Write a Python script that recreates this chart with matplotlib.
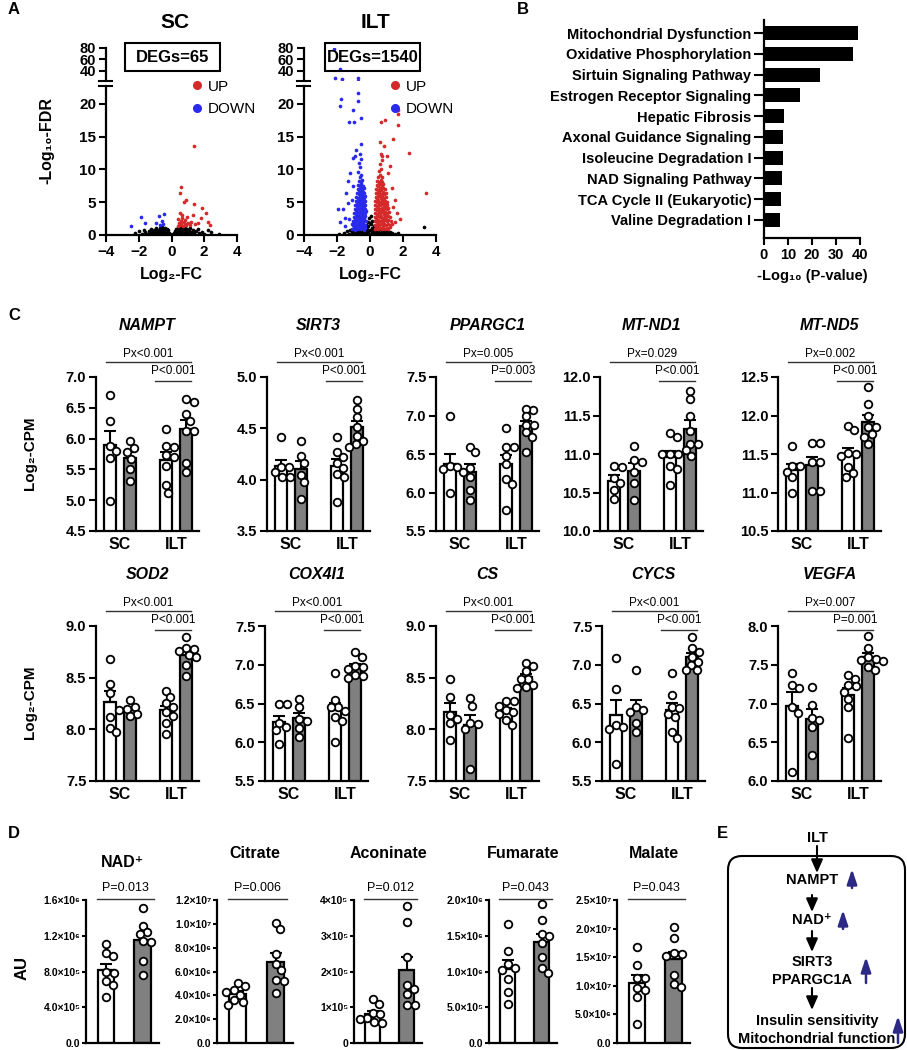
import matplotlib.pyplot as plt
import numpy as np
from matplotlib.lines import Line2D
from matplotlib.patches import Rectangle, FancyBboxPatch

plt.rcParams['font.family'] = ['Liberation Sans', 'DejaVu Sans']

# ---------------- data ----------------
# A: volcano plots (log2 FC, -log10 FDR)
sc_black = [(-2.2, 0.35), (-2.0, 0.6), (-1.8, 0.2), (-1.7, 0.8), (-1.6, 0.4), (-1.5, 0.15), (-1.4, 0.6),
            (-1.3, 0.3), (-1.25, 0.9), (-1.2, 0.5), (-1.1, 0.2), (-1.05, 0.7), (-1.0, 0.4), (-0.95, 1.0),
            (-0.9, 0.6), (-0.85, 0.25), (-0.8, 0.8), (-0.75, 0.45), (-0.7, 1.1), (-0.7, 0.15), (-0.65, 0.65),
            (-0.6, 0.9), (-0.6, 0.35), (-0.55, 1.2), (-0.5, 0.55), (-0.5, 0.1), (-0.45, 0.85), (-0.4, 1.05),
            (-0.4, 0.3), (-0.35, 0.6), (-0.3, 0.9), (-0.3, 0.2), (-0.25, 0.45), (-0.2, 0.7), (-0.15, 0.25),
            (-0.1, 0.1), (0.0, 0.05), (0.1, 0.1), (0.15, 0.3), (0.2, 0.6), (0.25, 0.15), (0.3, 0.85),
            (0.35, 0.4), (0.4, 1.1), (0.45, 0.65), (0.5, 0.2), (0.5, 0.95), (0.55, 1.25), (0.6, 0.5),
            (0.65, 0.8), (0.7, 1.15), (0.75, 0.3), (0.8, 0.7), (0.85, 1.0), (0.9, 0.45), (0.95, 0.85),
            (1.0, 0.2), (1.05, 0.6), (1.1, 1.0), (1.2, 0.4), (1.3, 0.8), (1.4, 0.25), (1.5, 0.6),
            (1.6, 0.9), (1.7, 0.3), (1.85, 0.5), (2.0, 0.2), (2.2, 0.7), (2.4, 0.4), (2.9, 0.1)]
sc_down = [(-2.5, 1.4), (-1.85, 2.8), (-1.6, 1.9), (-0.95, 1.9), (-0.75, 2.9), (-0.6, 2.2),
           (-0.45, 3.2), (-0.5, 1.6), (-0.7, 1.5)]
sc_up = [(1.38, 13.6), (0.6, 7.3), (0.5, 6.4), (0.9, 5.4), (0.77, 5.1), (1.36, 4.7), (1.89, 4.1),
         (0.5, 3.3), (0.65, 3.1), (1.3, 3.1), (2.1, 3.3), (1.8, 2.6), (2.2, 2.0), (2.33, 1.5), (0.4, 2.4),
         (0.45, 1.9), (0.5, 1.5), (0.55, 2.2), (0.6, 1.7), (0.65, 2.6), (0.7, 1.4), (0.75, 2.0),
         (0.8, 1.6), (0.85, 2.3), (0.9, 1.5), (1.0, 1.9), (1.1, 1.5), (1.2, 2.0), (1.45, 1.6),
         (1.6, 1.9), (0.95, 2.8), (0.42, 1.4)]

ilt_black = [(-1.9, 0.15), (-1.6, 0.3), (-1.4, 0.6), (-1.3, 0.2), (-1.2, 0.8), (-1.1, 0.4), (-1.0, 0.1),
             (-0.95, 0.7), (-0.9, 0.3), (-0.85, 1.0), (-0.8, 0.5), (-0.75, 0.15), (-0.7, 0.8), (-0.65, 0.4),
             (-0.6, 1.1), (-0.55, 0.6), (-0.5, 0.2), (-0.45, 0.9), (-0.4, 0.45), (-0.35, 1.2), (-0.3, 0.7),
             (-0.25, 0.3), (-0.22, 1.5), (-0.2, 0.9), (-0.15, 0.5), (-0.1, 1.3), (-0.05, 0.2), (0.0, 0.8),
             (0.05, 1.6), (0.1, 0.4), (0.15, 1.1), (0.2, 0.6), (0.22, 1.4), (0.25, 0.2), (0.3, 0.9),
             (0.35, 0.4), (0.4, 0.7), (0.45, 0.15), (0.5, 0.55), (0.55, 0.85), (0.6, 0.3), (0.7, 0.6),
             (0.8, 0.2), (0.85, 0.75), (0.9, 0.4), (1.0, 0.6), (1.1, 0.2), (1.2, 0.5), (1.35, 0.3),
             (1.5, 0.1), (1.7, 0.25), (-0.12, 2.0), (0.1, 2.2), (0.0, 1.9), (-0.05, 2.6), (0.08, 2.9),
             (3.3, 1.2)]
ilt_down = [(-1.08, 0.9), (-0.97, 1.2), (-0.88, 0.8), (-0.79, 1.1), (-0.71, 0.85), (-0.62, 1.25),
            (-0.53, 0.95), (-0.44, 1.15), (-0.36, 0.8), (-0.29, 1.05), (-1.12, 1.6), (-1.01, 1.45),
            (-0.92, 1.75), (-0.83, 1.5), (-0.74, 1.7), (-0.66, 1.4), (-0.57, 1.65), (-0.48, 1.45),
            (-0.4, 1.75), (-0.31, 1.5), (-1.05, 2.2), (-0.96, 2.05), (-0.87, 2.35), (-0.78, 2.1),
            (-0.69, 2.3), (-0.6, 2.0), (-0.52, 2.25), (-0.43, 2.05), (-0.35, 2.3), (-0.27, 2.1),
            (-1.0, 2.8), (-0.9, 2.65), (-0.81, 2.9), (-0.72, 2.7), (-0.64, 2.95), (-0.55, 2.6),
            (-0.47, 2.85), (-0.38, 2.65), (-0.3, 2.9), (-0.97, 3.4), (-0.86, 3.25), (-0.77, 3.5),
            (-0.68, 3.3), (-0.59, 3.55), (-0.5, 3.2), (-0.42, 3.45), (-0.33, 3.3), (-0.27, 3.6),
            (-0.92, 4.0), (-0.83, 3.85), (-0.74, 4.1), (-0.65, 3.9), (-0.56, 4.15), (-0.47, 3.85),
            (-0.39, 4.1), (-0.31, 3.9), (-0.88, 4.6), (-0.79, 4.45), (-0.7, 4.7), (-0.61, 4.5),
            (-0.52, 4.75), (-0.44, 4.45), (-0.36, 4.65), (-0.29, 4.5), (-0.85, 5.2), (-0.76, 5.05),
            (-0.67, 5.3), (-0.58, 5.1), (-0.49, 5.35), (-0.41, 5.05), (-0.33, 5.25), (-0.82, 5.8),
            (-0.72, 5.65), (-0.63, 5.9), (-0.54, 5.7), (-0.46, 5.95), (-0.38, 5.7), (-0.31, 5.9),
            (-0.78, 6.4), (-0.69, 6.25), (-0.6, 6.5), (-0.51, 6.3), (-0.43, 6.55), (-0.35, 6.35),
            (-0.74, 7.0), (-0.65, 6.85), (-0.56, 7.1), (-0.47, 6.9), (-0.39, 7.15), (-0.71, 7.6),
            (-0.61, 7.45), (-0.52, 7.7), (-0.44, 7.5), (-0.66, 8.2), (-0.57, 8.05), (-0.49, 8.35),
            (-0.62, 8.9), (-0.53, 9.2), (-0.7, 9.6), (-0.58, 10.3), (-0.66, 11.0), (-0.55, 11.6),
            (-0.63, 12.4),
            (-1.94, 3.9), (-1.63, 3.9), (-1.43, 6.4), (-1.23, 9.4), (-1.33, 8.2), (-1.02, 11.7),
            (-0.92, 12.0), (-0.82, 13.0), (-0.52, 13.9), (-1.53, 2.6), (-1.83, 2.0), (-1.33, 4.8),
            (-1.12, 5.4), (-1.02, 7.4), (-1.26, 17.2), (-0.98, 17.2), (-0.57, 17.9), (-1.02, 19.0),
            (-1.79, 19.6), (-1.73, 20.7), (-0.72, 20.4), (-0.72, 21.7), (-2.18, 78), (-1.79, 42.5),
            (-2.14, 28), (-1.69, 26), (-0.72, 27), (-1.5, 1.4), (-1.25, 2.4)]
ilt_up = [(0.3, 0.9), (0.4, 1.15), (0.5, 0.85), (0.6, 1.1), (0.7, 0.9), (0.8, 1.2), (0.9, 0.85),
          (1.0, 1.1), (1.1, 0.9), (1.22, 1.15), (0.28, 1.55), (0.37, 1.4), (0.47, 1.7), (0.57, 1.45),
          (0.67, 1.65), (0.77, 1.4), (0.87, 1.7), (0.97, 1.5), (1.08, 1.75), (1.2, 1.45), (1.32, 1.6),
          (0.31, 2.2), (0.41, 2.05), (0.51, 2.3), (0.61, 2.1), (0.71, 2.35), (0.81, 2.05), (0.91, 2.25),
          (1.01, 2.1), (1.12, 2.3), (1.25, 2.15), (0.29, 2.8), (0.39, 2.65), (0.49, 2.9), (0.59, 2.7),
          (0.69, 2.95), (0.79, 2.65), (0.89, 2.85), (0.99, 2.7), (1.1, 2.95), (1.22, 2.75), (0.32, 3.4),
          (0.42, 3.25), (0.52, 3.5), (0.62, 3.3), (0.72, 3.55), (0.82, 3.25), (0.92, 3.45), (1.03, 3.3),
          (1.15, 3.5), (0.3, 4.0), (0.4, 3.85), (0.5, 4.1), (0.6, 3.9), (0.7, 4.15), (0.8, 3.85),
          (0.9, 4.05), (1.0, 3.9), (1.1, 4.1), (0.33, 4.6), (0.43, 4.45), (0.53, 4.7), (0.63, 4.5),
          (0.73, 4.75), (0.83, 4.45), (0.93, 4.65), (1.04, 4.5), (0.31, 5.2), (0.41, 5.05), (0.51, 5.3),
          (0.61, 5.1), (0.71, 5.35), (0.81, 5.05), (0.91, 5.25), (1.02, 5.1), (0.34, 5.8), (0.44, 5.65),
          (0.54, 5.9), (0.64, 5.7), (0.74, 5.95), (0.84, 5.65), (0.95, 5.85), (0.36, 6.4), (0.46, 6.25),
          (0.56, 6.5), (0.66, 6.3), (0.76, 6.55), (0.86, 6.3), (0.97, 6.45), (0.38, 7.0), (0.48, 6.85),
          (0.58, 7.1), (0.68, 6.9), (0.78, 7.15), (0.9, 6.95), (0.4, 7.6), (0.5, 7.45), (0.6, 7.7),
          (0.7, 7.5), (0.8, 7.75), (0.45, 8.2), (0.55, 8.05), (0.65, 8.35), (0.75, 8.15), (0.5, 8.9),
          (0.6, 9.2), (0.7, 8.8), (0.55, 9.7), (0.68, 10.1), (0.6, 10.8), (0.72, 11.5), (0.65, 12.3),
          (0.9, 17.5), (0.64, 17.2), (1.71, 16.7), (1.71, 18.4), (1.67, 19.1), (2.38, 12.5), (1.41, 14.6),
          (0.6, 14.1), (0.74, 12.1), (3.39, 6.4), (1.51, 5.4), (1.61, 3.3), (1.41, 4.3), (1.31, 7.1),
          (1.1, 9.4), (1.21, 10.5), (1.0, 12.0), (0.85, 13.5), (1.8, 2.4), (1.5, 2.0)]
deg_counts = [65, 1540]

# B: top canonical pathways
pathways = ['Mitochondrial Dysfunction', 'Oxidative Phosphorylation', 'Sirtuin Signaling Pathway',
            'Estrogen Receptor Signaling', 'Hepatic Fibrosis', 'Axonal Guidance Signaling',
            'Isoleucine Degradation I', 'NAD Signaling Pathway', 'TCA Cycle II (Eukaryotic)',
            'Valine Degradation I']
neg_log_p = [39.0, 37.2, 23.5, 15.1, 8.4, 8.0, 7.8, 7.5, 6.9, 6.8]

# C: log2-CPM per gene: [SC white, SC grey, ILT white, ILT grey]
nampt = [[6.71, 6.29, 5.88, 5.80, 5.68, 4.98], [5.96, 5.85, 5.78, 5.67, 5.51, 5.31],
         [6.15, 5.88, 5.86, 5.74, 5.70, 5.55, 5.24, 5.12], [6.60, 6.64, 6.40, 6.29, 6.12, 6.12, 5.60, 5.46]]
sirt3 = [[4.42, 4.12, 4.12, 4.07, 4.03, 4.03], [4.38, 4.23, 4.16, 4.05, 3.98, 3.81],
         [4.42, 4.27, 4.22, 4.16, 4.11, 4.06, 4.03, 3.78], [4.78, 4.69, 4.61, 4.51, 4.43, 4.38, 4.35, 4.32]]
ppargc1 = [[6.99, 6.35, 6.33, 6.30, 6.26, 5.99], [6.59, 6.52, 6.32, 6.20, 6.03, 5.90],
           [6.84, 6.59, 6.59, 6.48, 6.37, 6.18, 6.11, 5.77], [7.07, 7.09, 6.99, 6.88, 6.88, 6.78, 6.72, 6.53]]
mt_nd1 = [[10.85, 10.83, 10.69, 10.62, 10.53, 10.41], [11.11, 10.92, 10.89, 10.77, 10.62, 10.40],
          [11.27, 11.22, 11.00, 11.00, 11.00, 10.85, 10.80, 10.60],
          [11.82, 11.71, 11.50, 11.30, 11.13, 11.13, 11.05, 10.98]]
mt_nd5 = [[11.60, 11.34, 11.34, 11.27, 11.20, 10.99], [11.64, 11.64, 11.40, 11.40, 11.02, 11.02],
          [11.87, 11.81, 11.51, 11.50, 11.48, 11.33, 11.25, 11.20],
          [12.37, 12.15, 12.00, 11.85, 11.85, 11.76, 11.72, 11.63]]
sod2 = [[8.68, 8.44, 8.35, 8.12, 8.01, 7.97], [8.28, 8.22, 8.20, 8.19, 8.15, 8.13],
        [8.37, 8.31, 8.25, 8.22, 8.17, 8.13, 8.06, 7.95], [8.89, 8.79, 8.78, 8.76, 8.72, 8.70, 8.62, 8.52]]
cox4i1 = [[6.49, 6.49, 6.25, 6.20, 6.16, 5.98], [6.56, 6.46, 6.30, 6.28, 6.19, 6.07],
          [6.89, 6.55, 6.46, 6.45, 6.40, 6.33, 6.28, 6.00], [7.16, 7.10, 6.98, 6.97, 6.94, 6.87, 6.85, 6.83]]
cs = [[8.49, 8.31, 8.14, 8.10, 8.06, 7.90], [8.30, 8.23, 8.06, 8.05, 8.00, 7.62],
      [8.27, 8.27, 8.23, 8.19, 8.17, 8.15, 8.09, 8.04], [8.64, 8.61, 8.56, 8.49, 8.49, 8.43, 8.41, 8.40]]
cycs = [[7.09, 6.69, 6.22, 6.20, 6.17, 5.72], [6.93, 6.46, 6.42, 6.39, 6.25, 6.13],
        [6.89, 6.61, 6.46, 6.44, 6.37, 6.33, 6.13, 6.06], [7.36, 7.22, 7.17, 7.10, 7.04, 7.00, 6.93, 6.93]]
vegfa = [[7.39, 7.24, 7.20, 6.95, 6.88, 6.12], [7.21, 6.98, 6.81, 6.79, 6.70, 6.34],
         [7.37, 7.32, 7.24, 7.22, 7.15, 7.06, 6.96, 6.56], [7.87, 7.72, 7.60, 7.58, 7.56, 7.55, 7.47, 7.43]]
gene_names = ['NAMPT', 'SIRT3', 'PPARGC1', 'MT-ND1', 'MT-ND5', 'SOD2', 'COX4I1', 'CS', 'CYCS', 'VEGFA']
gene_data = [nampt, sirt3, ppargc1, mt_nd1, mt_nd5, sod2, cox4i1, cs, cycs, vegfa]
gene_ylim = [(4.5, 7.0), (3.5, 5.0), (5.5, 7.5), (10.0, 12.0), (10.5, 12.5),
             (7.5, 9.0), (5.5, 7.5), (7.5, 9.0), (5.5, 7.5), (6.0, 8.0)]
px_text = ['Px<0.001', 'Px<0.001', 'Px=0.005', 'Px=0.029', 'Px=0.002',
           'Px<0.001', 'Px<0.001', 'Px<0.001', 'Px<0.001', 'Px=0.007']
p_text = ['P<0.001', 'P<0.001', 'P=0.003', 'P<0.001', 'P<0.001',
          'P<0.001', 'P<0.001', 'P<0.001', 'P<0.001', 'P=0.001']
c_groups = ['SC', 'ILT']

# D: metabolites (AU), [white, grey]
nad = [[1.11e6, 0.97e6, 1.01e6, 0.78e6, 0.79e6, 0.69e6, 0.65e6, 0.51e6],
       [1.51e6, 1.31e6, 1.24e6, 1.22e6, 1.14e6, 1.13e6, 0.92e6, 0.76e6]]
citrate = [[5.03e6, 4.75e6, 4.48e6, 4.30e6, 4.05e6, 3.65e6, 3.20e6, 3.45e6],
           [10.1e6, 9.55e6, 7.46e6, 6.10e6, 6.60e6, 5.20e6, 5.25e6, 4.20e6]]
aconinate = [[1.22e5, 1.08e5, 0.85e5, 0.80e5, 0.70e5, 0.66e5, 0.60e5, 0.56e5],
             [3.83e5, 3.39e5, 2.40e5, 1.61e5, 1.52e5, 1.38e5, 1.06e5, 1.06e5]]
fumarate = [[1.66e6, 1.28e6, 1.10e6, 1.05e6, 1.02e6, 0.90e6, 0.72e6, 0.55e6],
            [1.94e6, 1.72e6, 1.52e6, 1.50e6, 1.40e6, 1.20e6, 1.05e6, 0.98e6]]
malate = [[1.67e7, 1.37e7, 1.14e7, 1.13e7, 0.96e7, 0.93e7, 0.81e7, 0.34e7],
          [2.02e7, 1.83e7, 1.57e7, 1.55e7, 1.52e7, 1.19e7, 1.04e7, 0.98e7]]
met_names = ['NAD⁺', 'Citrate', 'Aconinate', 'Fumarate', 'Malate']
met_data = [nad, citrate, aconinate, fumarate, malate]
met_p = ['P=0.013', 'P=0.006', 'P=0.012', 'P=0.043', 'P=0.043']
nad_ticks = [0, 4e5, 8e5, 1.2e6, 1.6e6]
nad_labels = ['0.0', '4.0×10⁵', '8.0×10⁵', '1.2×10⁶', '1.6×10⁶']
citrate_ticks = [0, 2e6, 4e6, 6e6, 8e6, 1e7, 1.2e7]
citrate_labels = ['0.0', '2.0×10⁶', '4.0×10⁶', '6.0×10⁶', '8.0×10⁶', '1.0×10⁷', '1.2×10⁷']
aconinate_ticks = [0, 1e5, 2e5, 3e5, 4e5]
aconinate_labels = ['0', '1×10⁵', '2×10⁵', '3×10⁵', '4×10⁵']
fumarate_ticks = [0, 5e5, 1e6, 1.5e6, 2e6]
fumarate_labels = ['0.0', '5.0×10⁵', '1.0×10⁶', '1.5×10⁶', '2.0×10⁶']
malate_ticks = [0, 5e6, 1e7, 1.5e7, 2e7, 2.5e7]
malate_labels = ['0.0', '5.0×10⁶', '1.0×10⁷', '1.5×10⁷', '2.0×10⁷', '2.5×10⁷']
met_ticks = [nad_ticks, citrate_ticks, aconinate_ticks, fumarate_ticks, malate_ticks]
met_labels = [nad_labels, citrate_labels, aconinate_labels, fumarate_labels, malate_labels]

# ---------------- figure ----------------
W, H = 907, 1050
fig = plt.figure(figsize=(W / 100, H / 100), dpi=100)
GREY = '#808080'
RED = '#d42a2a'
BLUE = '#2a2aee'


def px_axes(x0, y0, x1, y1):
    return fig.add_axes([x0 / W, 1 - y1 / H, (x1 - x0) / W, (y1 - y0) / H])


def style(ax, size=10):
    for s in ('top', 'right'):
        ax.spines[s].set_visible(False)
    for s in ('left', 'bottom'):
        ax.spines[s].set_linewidth(1.6)
    ax.tick_params(width=1.5, length=5, labelsize=size, pad=2)
    for t in ax.get_xticklabels() + ax.get_yticklabels():
        t.set_fontweight('bold')


def swarm(ax, x, vals, d=7.6):
    # spread points sideways so circles don't overlap (pixel space)
    tr = ax.transData
    pts = tr.transform(np.column_stack([np.full(len(vals), x), vals]))
    cx, ys = pts[0, 0], pts[:, 1]
    placed, offs = [], np.zeros(len(vals))
    for i in np.argsort(-ys):
        for k in range(60):
            cands = (0,) if k == 0 else (k * 0.5, -k * 0.5)
            hit = None
            for off in cands:
                if all((off - px) ** 2 + (ys[i] - py) ** 2 >= d * d for px, py in placed):
                    hit = off
                    break
            if hit is not None:
                break
        placed.append((hit, ys[i]))
        offs[i] = hit
    back = tr.inverted().transform(np.column_stack([cx + offs, ys]))
    return back[:, 0]


def dot_bars(ax, groups, xs, width, fills):
    for g, x, fc in zip(groups, xs, fills):
        v = np.array(g)
        m = v.mean()
        se = v.std(ddof=1) / np.sqrt(len(v))
        ax.bar(x, m, width, color=fc, edgecolor='black', lw=1.6, zorder=2)
        ax.errorbar(x, m, yerr=[[0], [se]], color='black', lw=1.5, capsize=4, capthick=1.5, zorder=3)
        ax.scatter(swarm(ax, x, v), v, s=30, facecolor='white', edgecolor='black', lw=1.3,
                   zorder=4, clip_on=False)


# ---- A: volcano plots ----
for x0, x1, black, up, down in ((106, 237, sc_black, sc_up, sc_down),
                                (304, 436, ilt_black, ilt_up, ilt_down)):
    low = px_axes(x0, 86, x1, 235)
    high = px_axes(x0, 47.7, x1, 80)
    for ax in (low, high):
        for pts, c in ((black, 'black'), (down, BLUE), (up, RED)):
            p = np.array(pts)
            ax.scatter(p[:, 0], p[:, 1], s=7, c=c, lw=0)
        ax.set_xlim(-4, 4)
    low.set_ylim(0, 22.7)
    low.set_yticks([0, 5, 10, 15, 20])
    low.set_xticks([-4, -2, 0, 2, 4])
    style(low, 11)
    low.set_xlabel('Log₂-FC', fontsize=11.5, fontweight='bold', labelpad=6)
    high.set_ylim(24, 80)
    high.set_yticks([40, 60, 80])
    high.set_xticks([])
    style(high, 10.5)
    high.spines['bottom'].set_visible(False)
    low.legend(handles=[Line2D([], [], marker='o', ls='', color=RED, markersize=5.5),
                        Line2D([], [], marker='o', ls='', color=BLUE, markersize=5.5)],
               labels=['UP', 'DOWN'], frameon=False, loc='upper left',
               bbox_to_anchor=((x0 + 74) / W, 1 - 72 / H), bbox_transform=fig.transFigure,
               borderpad=0, handletextpad=0.1, labelspacing=0.55, handlelength=1.2, fontsize=11)

# ---- B: pathways ----
axb = px_axes(764, 20, 860, 238)
yb = np.arange(len(pathways))
axb.barh(yb, neg_log_p, height=0.68, color='black')
axb.set_ylim(9.87, -0.63)
axb.set_xlim(0, 40)
axb.set_yticks(yb)
axb.set_yticklabels(pathways)
axb.set_xticks([0, 10, 20, 30, 40])
style(axb, 10.5)
axb.tick_params(axis='y', length=7, pad=2)
axb.set_xlabel('-Log₁₀ (P-value)', fontsize=10.5, fontweight='bold', labelpad=5)

# ---- C: gene expression ----
c_lefts = [96, 267, 436, 600, 778, 96, 265, 436, 602, 778]
c_rows = [(377, 531), (626, 781)]
cpos = [0.7, 1.7, 3.5, 4.5]
for i, (name, data) in enumerate(zip(gene_names, gene_data)):
    top, bot = c_rows[i // 5]
    ax = px_axes(c_lefts[i], top, c_lefts[i] + 103, bot)
    ax.set_xlim(0, 5.15)
    lo, hi = gene_ylim[i]
    ax.set_ylim(lo, hi)
    ax.set_yticks(np.arange(lo, hi + 0.01, 0.5))
    ax.set_yticklabels(['%.1f' % t for t in np.arange(lo, hi + 0.01, 0.5)])
    dot_bars(ax, data, cpos, 0.62, ['white', GREY, 'white', GREY])
    ax.set_xticks([1.2, 4.0])
    ax.set_xticklabels(c_groups)
    style(ax, 10.5)
    ax.tick_params(axis='x', length=0, labelsize=11.5, pad=4)
    ax.set_title(name, fontsize=11.5, fontweight='bold', style='italic', pad=34)
    tr = ax.get_xaxis_transform()
    ax.plot([0.5, 4.75], [1.095, 1.095], transform=tr, clip_on=False, color='#333333', lw=1)
    ax.plot([2.95, 4.75], [0.975, 0.975], transform=tr, clip_on=False, color='#333333', lw=1)
    ax.text(2.62, 1.15, px_text[i], transform=tr, ha='center', va='center', fontsize=8.5)
    ax.text(3.85, 1.04, p_text[i], transform=tr, ha='center', va='center', fontsize=8.5)

# ---- D: metabolites ----
d_boxes = [(86, 159), (217, 293), (354, 422), (489, 557), (617, 690)]
for i, (name, data) in enumerate(zip(met_names, met_data)):
    x0, x1 = d_boxes[i]
    ax = px_axes(x0, 900, x1, 1043)
    ax.set_xlim(0, 2.0)
    ax.set_ylim(met_ticks[i][0], met_ticks[i][-1])
    ax.set_yticks(met_ticks[i])
    ax.set_yticklabels(met_labels[i])
    dot_bars(ax, data, [0.55, 1.55], 0.45, ['white', GREY])
    ax.set_xticks([])
    style(ax, 7.5)
    ax.tick_params(axis='y', length=3, pad=1)
    ax.set_title(name, fontsize=11.5, fontweight='bold', pad=30 if i else 24)
    tr = ax.get_xaxis_transform()
    ax.plot([0.3, 1.85], [1.01, 1.01], transform=tr, clip_on=False, color='#333333', lw=1)
    ax.text(1.07, 1.085, met_p[i], transform=tr, ha='center', va='center', fontsize=9)

# ---- overlay: labels, decorations, panel E ----
ov = fig.add_axes([0, 0, 1, 1])
ov.set_xlim(0, W)
ov.set_ylim(H, 0)
ov.axis('off')

for lab, x, y in (('A', 8, 10), ('B', 517, 10), ('C', 8, 316), ('D', 8, 833), ('E', 717, 833)):
    ov.text(x, y, lab, fontsize=12, fontweight='bold', ha='left', va='center')

# volcano titles, DEG boxes, axis breaks
for x0, cx, title, n in ((106, 175, 'SC', deg_counts[0]), (304, 375, 'ILT', deg_counts[1])):
    ov.text(cx, 22, title, fontsize=15, fontweight='bold', ha='center', va='center')
    ov.add_patch(Rectangle((cx - 50, 43), 95, 28, fill=False, lw=1.5, edgecolor='black'))
    ov.text(cx - 2.5, 57, 'DEGs=%d' % n, fontsize=12, fontweight='bold', ha='center', va='center')
    for yy in (81, 85.5):
        ov.plot([x0 - 7, x0 + 6], [yy, yy], color='black', lw=1.5)
ov.text(47, 140, '-Log₁₀-FDR', rotation=90, fontsize=11.5, fontweight='bold', ha='center', va='center')

ov.text(30, 453, 'Log₂-CPM', rotation=90, fontsize=11, fontweight='bold', ha='center', va='center')
ov.text(30, 702, 'Log₂-CPM', rotation=90, fontsize=11, fontweight='bold', ha='center', va='center')
ov.text(22, 968, 'AU', rotation=90, fontsize=12, fontweight='bold', ha='center', va='center')

# panel E
ov.add_patch(FancyBboxPatch((738, 866), 157, 172, boxstyle='round,pad=10,rounding_size=14',
                            fill=False, lw=1.5, edgecolor='black'))
e_font = dict(fontsize=10.5, fontweight='bold', ha='center', va='center')
ov.text(817, 838, 'ILT', **e_font)
ov.text(812, 880, 'NAMPT', **e_font)
ov.text(812, 920, 'NAD⁺', **e_font)
ov.text(812, 962, 'SIRT3', **e_font)
ov.text(812, 980, 'PPARGC1A', **e_font)
ov.text(817, 1021, 'Insulin sensitivity', **e_font)
ov.text(817, 1039, 'Mitochondrial function', **e_font)
black_arrow = dict(arrowstyle='-|>,head_width=0.35,head_length=0.8', color='black', lw=1.5,
                   shrinkA=0, shrinkB=0)
for xa, y0, y1 in ((817, 846, 873), (812, 895, 912), (812, 931, 952), (812, 988, 1010)):
    ov.annotate('', xy=(xa, y1), xytext=(xa, y0), arrowprops=black_arrow)
blue_arrow = dict(arrowstyle='-|>,head_width=0.3,head_length=0.9', color='#2d2a86', lw=1.8,
                  shrinkA=0, shrinkB=0)
for xa, y0, y1 in ((852, 888, 869), (843, 929, 910), (866, 983, 957), (898, 1043, 1016)):
    ov.annotate('', xy=(xa, y1), xytext=(xa, y0), arrowprops=blue_arrow)

fig.savefig('out.png', dpi=100)
